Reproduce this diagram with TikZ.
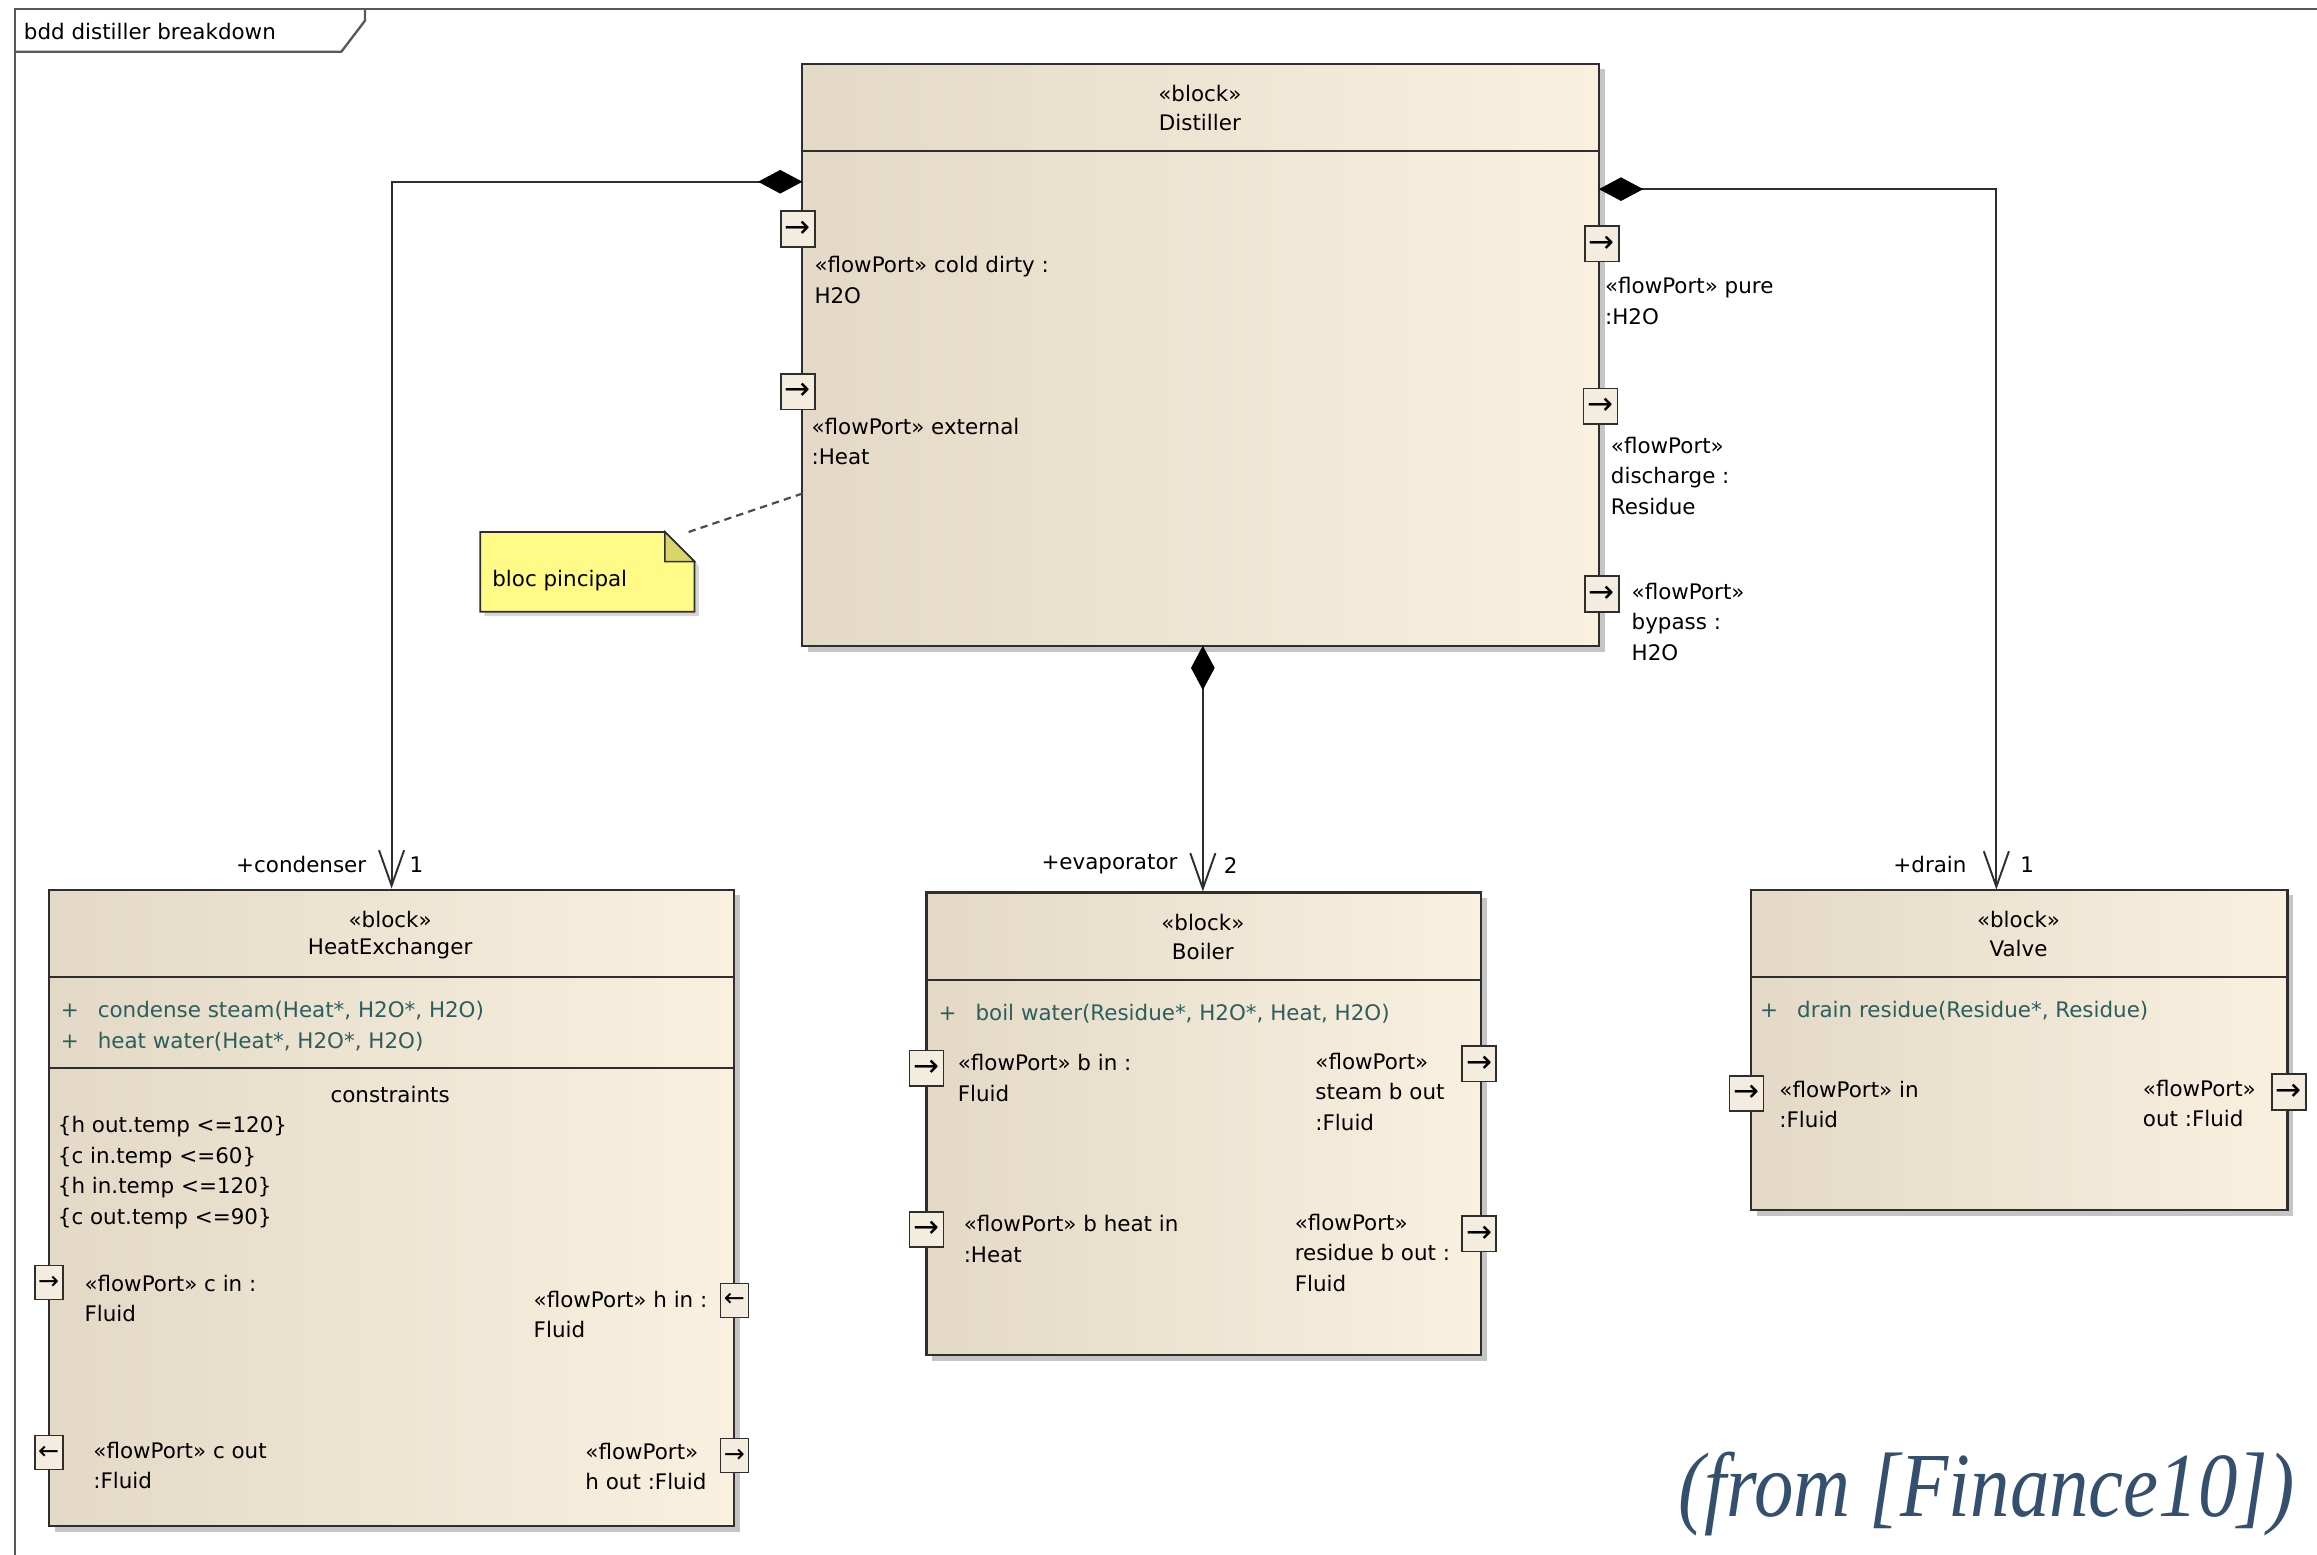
\documentclass[tikz,border=0pt]{standalone}
\usepackage{graphicx}
\usepackage{fontspec}
\setmainfont{DejaVu Sans}
\newfontfamily\citefont{Liberation Serif}
\usetikzlibrary{arrows.meta,positioning,shadows,calc}
\definecolor{blkL}{HTML}{E3D9C6}
\definecolor{blkR}{HTML}{FAF0E0}
\definecolor{portc}{HTML}{F4ECDF}
\definecolor{opc}{HTML}{2B5E5E}
\definecolor{notec}{HTML}{FFFB86}
\definecolor{foldc}{HTML}{D9D56A}
\definecolor{citec}{HTML}{34506E}
\definecolor{edge}{HTML}{2E2E2E}
\tikzset{
  blk/.style={draw=edge, line width=1.4pt, left color=blkL, right color=blkR, inner sep=0pt,
    drop shadow={shadow xshift=4pt, shadow yshift=-4pt, fill=black!45, opacity=.5}},
  sep/.style={draw=edge, line width=1.2pt},
  port/.style={draw=edge, line width=1.1pt, fill=portc, inner sep=0pt,
    minimum width=23pt, minimum height=24pt, font=\fontsize{21}{21}\selectfont},
  hport/.style={port, minimum width=19pt, minimum height=23pt, font=\fontsize{17}{17}\selectfont},
  lbl/.style={anchor=north west, inner sep=0pt, align=left, font=\fontsize{14.5}{20.6}\selectfont},
  ttl/.style={inner sep=0pt, font=\fontsize{14.5}{17}\selectfont},
  opr/.style={anchor=west, inner sep=0pt, text=opc, font=\fontsize{14.5}{17}\selectfont},
  role/.style={inner sep=0pt, font=\fontsize{14.5}{17}\selectfont},
  compose/.style={draw=edge, line width=1.3pt,
    {Diamond[length=30pt,width=16pt,fill=black,color=black]}-{Straight Barb[length=24pt,width=17pt]}},
  frame/.style={draw=black!65, line width=1.6pt},
  notebox/.style={draw=edge, line width=1.2pt, fill=notec,
    drop shadow={shadow xshift=3pt, shadow yshift=-3pt, fill=black!40, opacity=.4}},
  notelink/.style={draw=black!70, line width=1.5pt, dash pattern=on 5pt off 3.5pt},
  cite/.style={inner sep=0pt, text=citec, font=\citefont\itshape\fontsize{62}{62}\selectfont},
}
% flow port box on a block edge: name, centre, arrow glyph
\newcommand{\flow}[4][port]{\node[#1] (#2) at (#3) {#4};}
% stereotype and name of a block
\newcommand{\blockhead}[4]{%
  \node[ttl] (#1st) at (#2,#3) {«block»};
  \node[ttl] (#1nm) at (#2,#3+20) {#4};}
% operation line: + and signature
\newcommand{\op}[3]{\node[opr] (#1) at (#2) {\makebox[25pt][l]{+}#3};}

\begin{document}
\begin{tikzpicture}[x=1pt, y=-1pt]
  \useasboundingbox (0,0) rectangle (1568,1052);

  % diagram frame and its tab
  \draw[frame] (10,1052) -- (10,6) -- (1568,6);
  \draw[frame] (10,35) -- (231,35) -- (247,14) -- (247,6);
  \node[anchor=west, inner sep=0pt, font=\fontsize{14.5}{17}\selectfont] (frametitle) at (16,21) {bdd distiller breakdown};

  % blocks
  \node[blk, minimum width=539pt, minimum height=394pt] (dist) at (812.5,240) {};
  \node[blk, minimum width=464pt, minimum height=431pt] (he) at (265,817.5) {};
  \node[blk, minimum width=375pt, minimum height=313pt] (boiler) at (814.5,760.5) {};
  \node[blk, minimum width=363pt, minimum height=217pt] (valve) at (1366.5,710.5) {};

  % compartments
  \draw[sep] (543,102) -- (1082,102);
  \draw[sep] (33,661) -- (497,661);
  \draw[sep] (33,723) -- (497,723);
  \draw[sep] (627,663) -- (1002,663);
  \draw[sep] (1185,661) -- (1548,661);

  \blockhead{dist}{812}{63}{Distiller}
  \blockhead{he}{264}{622}{HeatExchanger}
  \blockhead{boiler}{814}{624}{Boiler}
  \blockhead{valve}{1366}{622}{Valve}

  \op{hecond}{41,684}{condense steam(Heat*, H2O*, H2O)}
  \op{heheat}{41,705}{heat water(Heat*, H2O*, H2O)}
  \op{boilop}{635,686}{boil water(Residue*, H2O*, Heat, H2O)}
  \op{valveop}{1191,684}{drain residue(Residue*, Residue)}

  \node[ttl] (hecons) at (264,741) {constraints};
  \node[lbl] (heconsl) at (39,755.5) {\{h out.temp <=120\}\\\{c in.temp <=60\}\\\{h in.temp <=120\}\\\{c out.temp <=90\}};

  % port labels
  \node[lbl] (dl1) at (551,173.5) {«flowPort» cold dirty :\\H2O};
  \node[lbl] (dl2) at (549,282.5) {«flowPort» external\\:Heat};
  \node[lbl] (dr1) at (1086,187.5) {«flowPort» pure\\:H2O};
  \node[lbl] (dr2) at (1090,295.5) {«flowPort»\\discharge :\\Residue};
  \node[lbl] (dr3) at (1104,394.5) {«flowPort»\\bypass :\\H2O};
  \node[lbl] (hl1) at (57,862.5) {«flowPort» c in :\\Fluid};
  \node[lbl] (hr1) at (361,873.5) {«flowPort» h in :\\Fluid};
  \node[lbl] (hl2) at (63,975.5) {«flowPort» c out\\:Fluid};
  \node[lbl] (hr2) at (396,976.5) {«flowPort»\\h out :Fluid};
  \node[lbl] (bl1) at (648,713.5) {«flowPort» b in :\\Fluid};
  \node[lbl] (br1) at (890,712.5) {«flowPort»\\steam b out\\:Fluid};
  \node[lbl] (bl2) at (652,822.5) {«flowPort» b heat in\\:Heat};
  \node[lbl] (br2) at (876,821.5) {«flowPort»\\residue b out :\\Fluid};
  \node[lbl] (vl1) at (1204,731.5) {«flowPort» in\\:Fluid};
  \node[lbl] (vr1) at (1450,730.5) {«flowPort»\\out :Fluid};

  % flow ports
  \flow{dpc}{540,155}{→}
  \flow{dpe}{540,265}{→}
  \flow{dpp}{1084,165}{→}
  \flow{dpd}{1083,275}{→}
  \flow{dpb}{1084,402}{→}
  \flow[hport]{hpci}{33,868}{→}
  \flow[hport]{hpco}{33,983}{←}
  \flow[hport]{hphi}{497,880}{←}
  \flow[hport]{hpho}{497,985}{→}
  \flow{bpi}{627,723}{→}
  \flow{bph}{627,832}{→}
  \flow{bps}{1001,720}{→}
  \flow{bpr}{1001,835}{→}
  \flow{vpi}{1182,740}{→}
  \flow{vpo}{1549,739}{→}

  % part associations
  \coordinate (dL) at (543,123);
  \coordinate (dB) at (814,437);
  \coordinate (dR) at (1082,128);
  \coordinate (vT) at (1351,602);
  \draw[compose] (dL) -| (he.north);
  \draw[compose] (dB) -- (dB |- boiler.north);
  \draw[compose] (dR) -| (vT);

  \node[role, anchor=east] (rcond) at (248,585) {+condenser};
  \node[role, anchor=west] (mcond) at (277,585) {1};
  \node[role, anchor=east] (revap) at (797,585) {+evaporator};
  \node[role, anchor=west] (mevap) at (828,586) {2};
  \node[role, anchor=east] (rdrain) at (1331,585) {+drain};
  \node[role, anchor=west] (mdrain) at (1367,585) {1};

  % note
  \path[notebox] (325,360) -- (450,360) -- (470,380) -- (470,414) -- (325,414) -- cycle;
  \draw[draw=edge, line width=1pt, fill=foldc] (450,360) -- (450,380) -- (470,380) -- cycle;
  \node[anchor=west, inner sep=0pt, font=\fontsize{14.5}{17}\selectfont] (note) at (333,393) {bloc pincipal};
  \coordinate (notetip) at (466,360);
  \coordinate (dN) at (543,334);
  \draw[notelink] (notetip) -- (dN);

  \node[cite, anchor=base east] (src) at (1553,1026) {\scalebox{0.86}[1]{(from [Finance10])}};
\end{tikzpicture}
\end{document}
